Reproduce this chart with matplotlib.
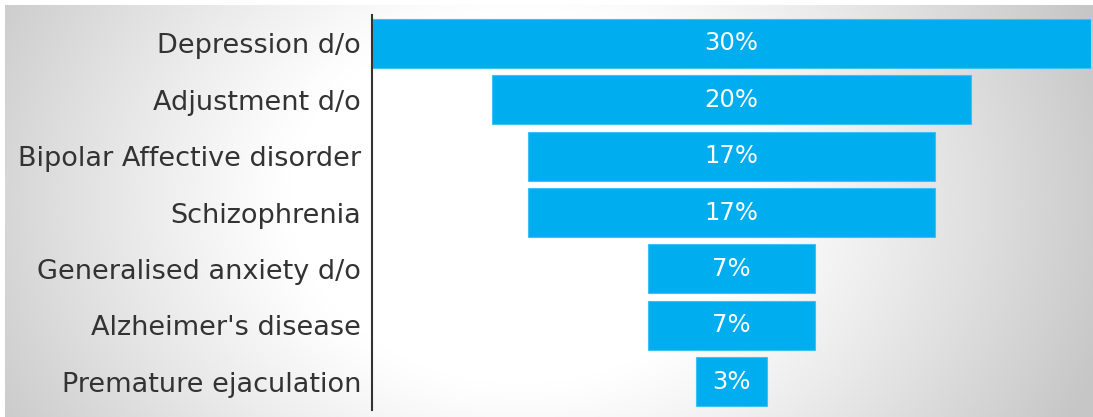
import numpy as np
import matplotlib.pyplot as plt

categories = ['Depression d/o', 'Adjustment d/o', 'Bipolar Affective disorder',
              'Schizophrenia', 'Generalised anxiety d/o', "Alzheimer's disease",
              'Premature ejaculation']
values = [30, 20, 17, 17, 7, 7, 3]

plt.rcParams['font.family'] = ['DejaVu Sans']

fig = plt.figure(figsize=(10.93, 4.17), dpi=100)

# soft radial grey background
bg = fig.add_axes([0, 0, 1, 1], zorder=0)
yy, xx = np.mgrid[0:417, 0:1093]
d = np.hypot((xx - 520) / 1.0, (yy - 200) / 0.8)
shade = 1.0 - 0.22 * np.clip((d - 230) / 380, 0, 1) ** 1.1
img = np.dstack([shade] * 3)
img[:5, :, :] = 1.0
img[:, :5, :] = 1.0
bg.imshow(img, aspect='auto', extent=[0, 1, 0, 1], origin='upper')
bg.axis('off')

ax = fig.add_axes([0.3404, 0.0168, 0.6578, 0.947], zorder=1)
ax.patch.set_alpha(0)

y = np.arange(len(categories))
lefts = [-v / 2 for v in values]
ax.barh(y, values, left=lefts, height=0.87, color='#00AEEF', edgecolor='#3FC2F2', linewidth=0.8)

for yi, v in zip(y, values):
    ax.text(0, yi, f'{v}%', ha='center', va='center', color='white', fontsize=17.5)

ax.set_xlim(-15, 15)
ax.set_ylim(len(categories) - 0.5, -0.5)
ax.set_yticks(y)
ax.set_yticklabels(categories, fontsize=19.5, color='#333333')
ax.tick_params(axis='y', length=0, pad=8)
ax.set_xticks([])
for s in ['top', 'right', 'bottom']:
    ax.spines[s].set_visible(False)
ax.spines['left'].set_color('#333333')
ax.spines['left'].set_linewidth(1.5)

plt.savefig('out.png', dpi=100)
